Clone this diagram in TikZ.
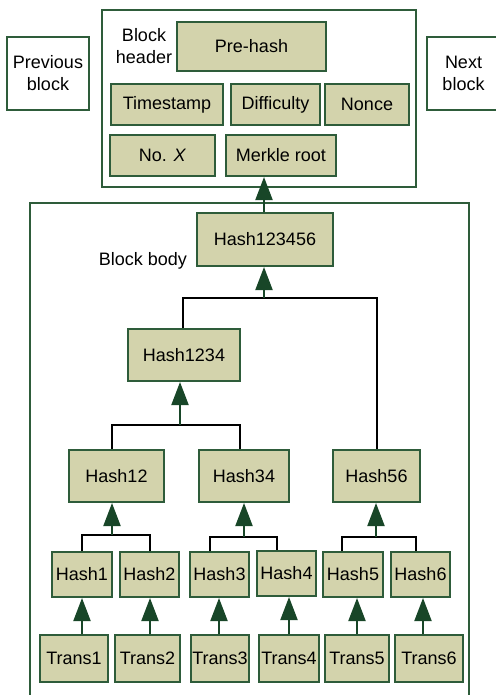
\documentclass[tikz,border=0pt]{standalone}
\usepackage{fontspec}
\setmainfont{Liberation Sans}
\usetikzlibrary{arrows.meta,calc}
\definecolor{boxfill}{RGB}{211,211,172}
\definecolor{boxline}{RGB}{46,92,58}
\definecolor{arrowgreen}{RGB}{24,70,40}
\tikzset{
  hbox/.style={draw=boxline,line width=2pt,fill=boxfill,inner sep=0pt,font=\fontsize{18}{22}\selectfont},
  wbox/.style={draw=boxline,line width=2pt,fill=white,inner sep=0pt,align=center,font=\fontsize{18}{22}\selectfont},
  lbl/.style={inner sep=0pt,align=center,font=\fontsize{18}{22}\selectfont},
  conn/.style={draw=black,line width=2pt},
  arr/.style={draw=arrowgreen,line width=2pt,-{Triangle[width=17pt,length=23pt]},arrowgreen},
}
\begin{document}
\begin{tikzpicture}[x=1pt,y=-1pt]
\useasboundingbox (0,0) rectangle (495,695);
% outer boxes
\node[wbox,minimum width=82,minimum height=73] (prev) at (48,73.5) {Previous\\block};
\node[wbox,minimum width=73,minimum height=73] (next) at (463.5,73.5) {Next\\block};
\node[wbox,minimum width=314,minimum height=177] (header) at (259,98.5) {};
\node[draw=boxline,line width=2pt,minimum width=439,minimum height=520,inner sep=0pt] (body) at (249.5,463) {};
% header content
\node[lbl] (hdrlbl) at (144,46) {Block\\header};
\node[hbox,minimum width=149,minimum height=49] (prehash) at (251.5,46.5) {Pre-hash};
\node[hbox,minimum width=112,minimum height=41] (timestamp) at (167,104.5) {Timestamp};
\node[hbox,minimum width=89,minimum height=41] (difficulty) at (275.5,104.5) {Difficulty};
\node[hbox,minimum width=84,minimum height=41] (nonce) at (367,104.5) {Nonce};
\node[hbox,minimum width=105,minimum height=41] (nox) at (162.5,155.5) {No. \textit{X}};
\node[hbox,minimum width=110,minimum height=41] (merkle) at (281,155.5) {Merkle root};
% body content
\node[lbl] (bodylbl) at (143,261) {Block body};
\node[hbox,minimum width=136,minimum height=53] (h123456) at (265,239.5) {Hash123456};
\node[hbox,minimum width=112,minimum height=52] (h1234) at (184,355) {Hash1234};
\node[hbox,minimum width=95,minimum height=52] (h12) at (116.5,476) {Hash12};
\node[hbox,minimum width=90,minimum height=52] (h34) at (244,476) {Hash34};
\node[hbox,minimum width=87,minimum height=52] (h56) at (376.5,476) {Hash56};
\node[hbox,minimum width=60,minimum height=45] (h1) at (82,574.5) {Hash1};
\node[hbox,minimum width=59,minimum height=45] (h2) at (149.5,574.5) {Hash2};
\node[hbox,minimum width=59,minimum height=45] (h3) at (219.5,574.5) {Hash3};
\node[hbox,minimum width=59,minimum height=45] (h4) at (286.5,573.5) {Hash4};
\node[hbox,minimum width=60,minimum height=45] (h5) at (353,574.5) {Hash5};
\node[hbox,minimum width=59,minimum height=45] (h6) at (420.5,574.5) {Hash6};
\node[hbox,minimum width=68,minimum height=47] (t1) at (74,658.5) {Trans1};
\node[hbox,minimum width=65,minimum height=47] (t2) at (147.5,658.5) {Trans2};
\node[hbox,minimum width=58,minimum height=47] (t3) at (220,658.5) {Trans3};
\node[hbox,minimum width=60,minimum height=47] (t4) at (289,658.5) {Trans4};
\node[hbox,minimum width=64,minimum height=47] (t5) at (357,658.5) {Trans5};
\node[hbox,minimum width=68,minimum height=47] (t6) at (429,658.5) {Trans6};
% junctions
\coordinate (jroot) at (264,298);
\coordinate (j1234) at (180,425);
\coordinate (j12) at (112,535);
\coordinate (j34) at (244,537);
\coordinate (j56) at (376,537);
% tree connectors
\draw[conn] ([xshift=-1pt]h1234.north) |- (jroot) -| (h56.north);
\draw[conn] ([xshift=-4.5pt]h12.north) |- (j1234) -| ([xshift=-4pt]h34.north);
\draw[conn] (h1.north) |- (j12) -| (h2.north);
\draw[conn] ([xshift=-9.5pt]h3.north) |- (j34) -| ([xshift=-9.5pt]h4.north);
\draw[conn] ([xshift=-11pt]h5.north) |- (j56) -| ([xshift=-4.5pt]h6.north);
% arrows
\draw[arr] (jroot) -- (jroot |- h123456.south);
\draw[arr] (h123456.north -| jroot) -- (jroot |- merkle.south);
\draw[arr] (j1234) -- (j1234 |- h1234.south);
\draw[arr] (j12) -- (j12 |- h12.south);
\draw[arr] (j34) -- (j34 |- h34.south);
\draw[arr] (j56) -- (j56 |- h56.south);
\draw[arr] ([xshift=8pt]t1.north) -- (h1.south);
\draw[arr] ([xshift=2.5pt]t2.north) -- ([xshift=0.5pt]h2.south);
\draw[arr] ([xshift=-1pt]t3.north) -- ([xshift=-0.5pt]h3.south);
\draw[arr] (t4.north) -- ([xshift=2.5pt]h4.south);
\draw[arr] (t5.north) -- ([xshift=4pt]h5.south);
\draw[arr] ([xshift=-6pt]t6.north) -- ([xshift=2.5pt]h6.south);
\end{tikzpicture}
\end{document}
